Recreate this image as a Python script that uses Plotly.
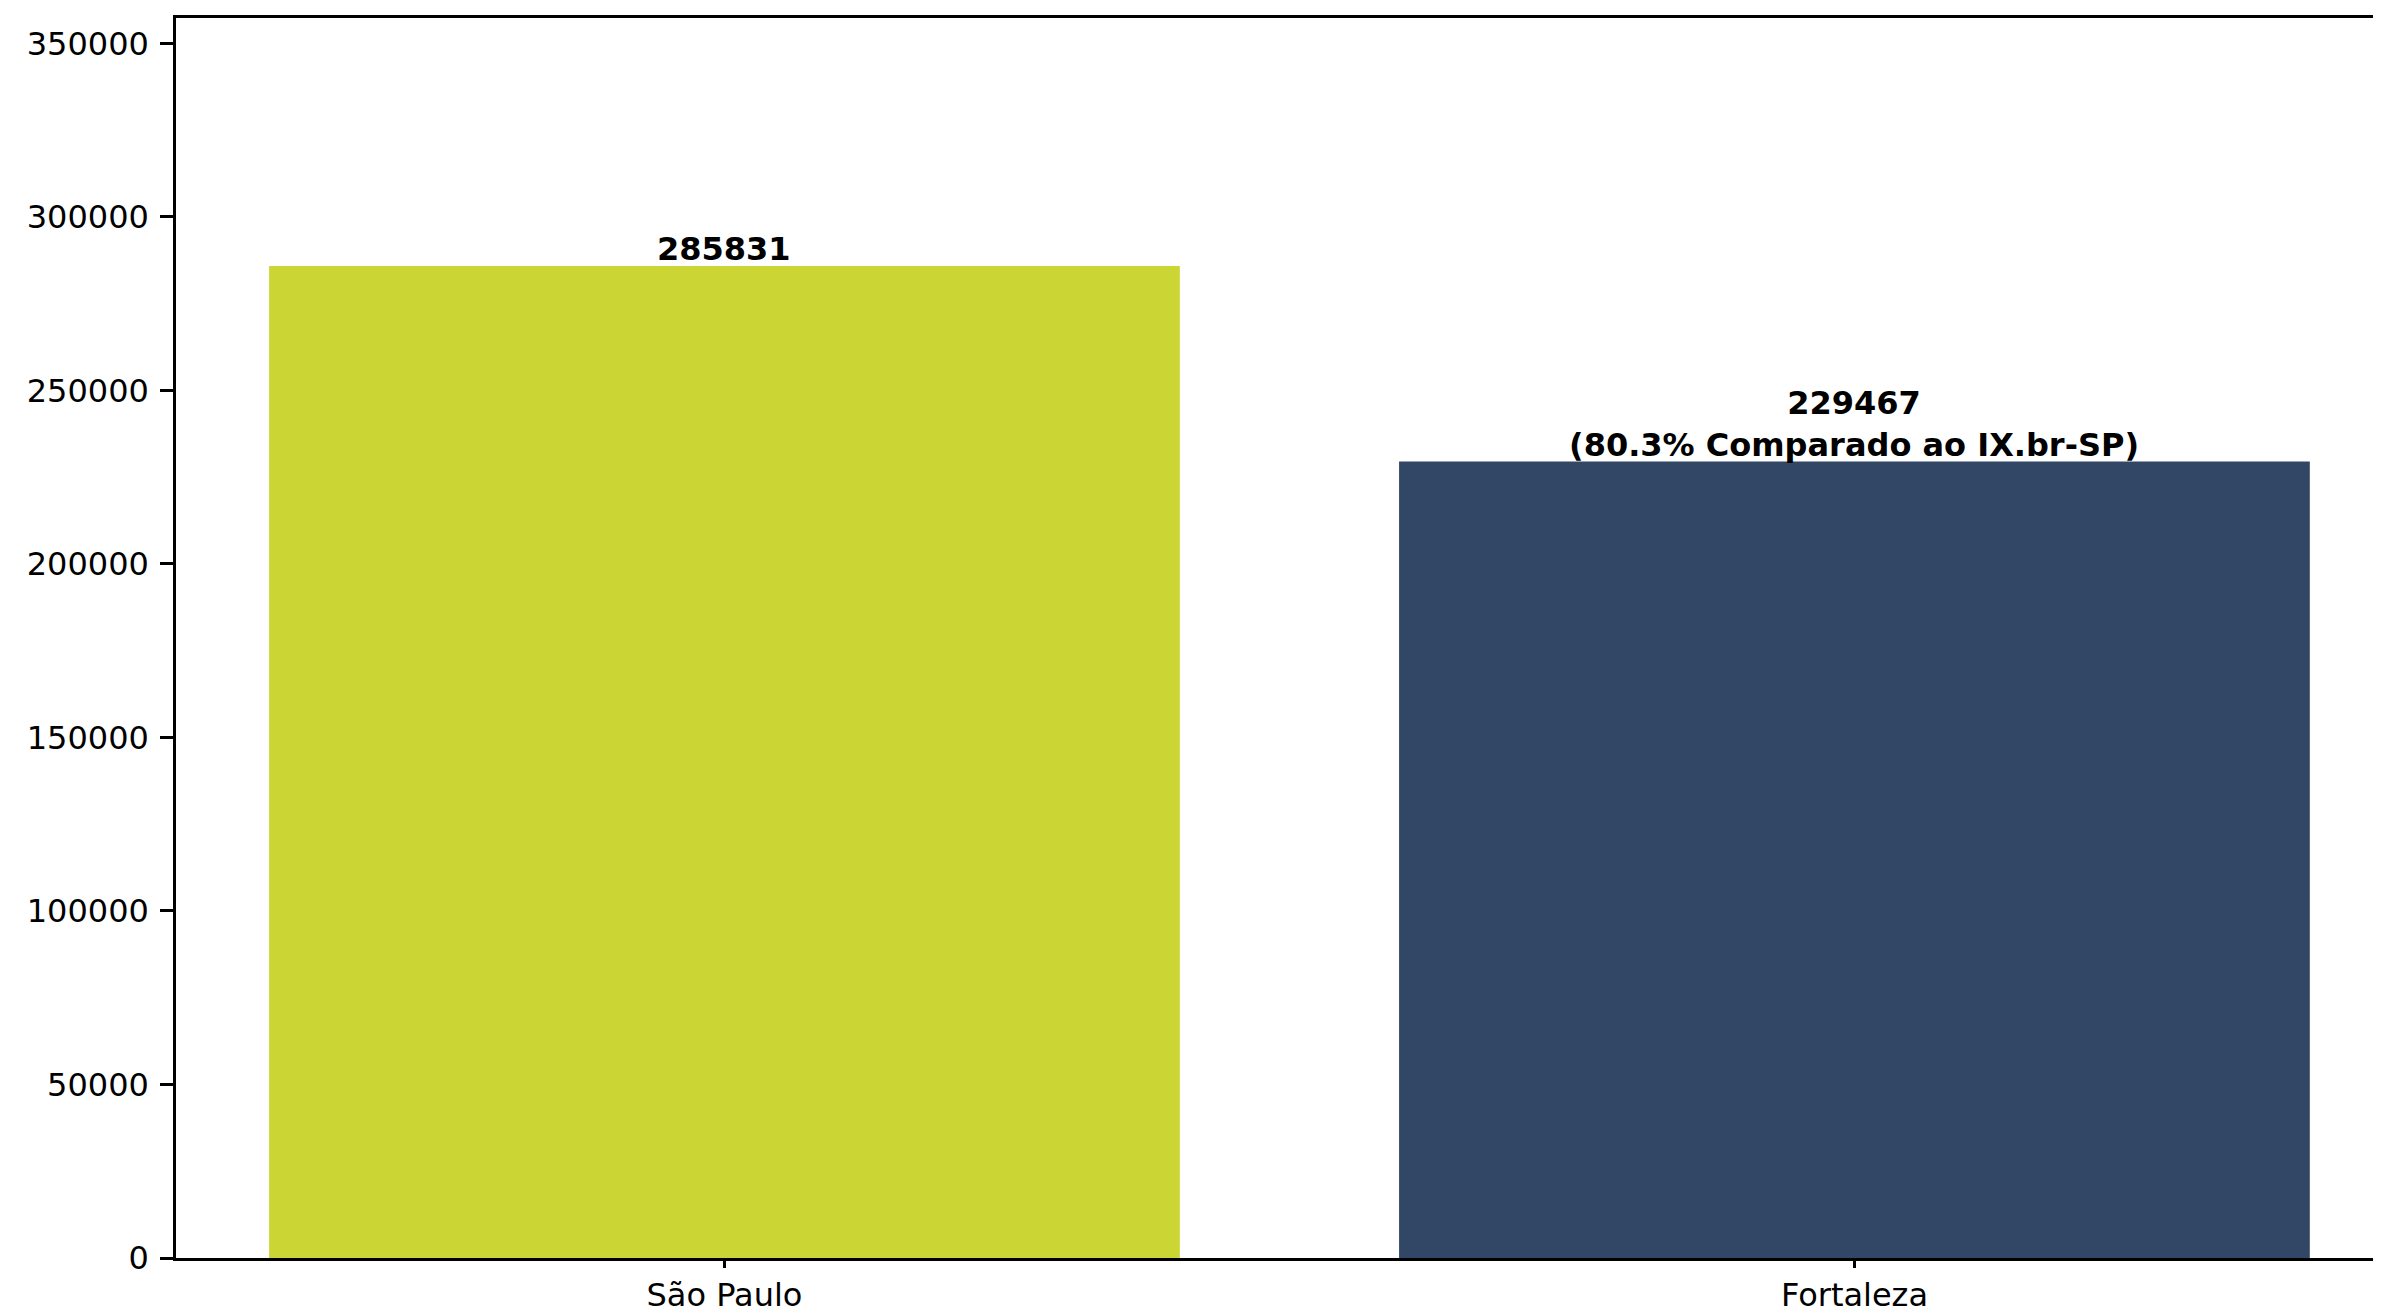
import plotly.graph_objects as go

categories = ["São Paulo", "Fortaleza"]
values = [285831, 229467]
colors = ["#CBD634", "#324765"]
y_ticks = [0, 50000, 100000, 150000, 200000, 250000, 300000, 350000]
ref_value = values[0]
ref_name = "IX.br-SP"

FONT = "DejaVu Sans"

fig = go.Figure()
fig.add_trace(go.Bar(
    x=categories,
    y=values,
    marker=dict(color=colors, line=dict(width=0)),
    width=0.806,
    hoverinfo="x+y",
))

labels = []
for i, v in enumerate(values):
    if i == 0:
        labels.append(f"<b>{v}</b>")
    else:
        pct = v / ref_value * 100
        labels.append(f"<b>{v}</b><br><b>({pct:.1f}% Comparado ao {ref_name})</b>")

for c, v, t in zip(categories, values, labels):
    fig.add_annotation(
        x=c, y=v, text=t, showarrow=False,
        xanchor="center", yanchor="bottom", yshift=-4,
        font=dict(family=FONT, size=32, color="black"),
        align="center",
    )

# page body has an 8px margin: size the figure so the plot area lands where the reference has it
fig.update_layout(
    width=2373, height=1306,
    margin=dict(l=168, r=0, t=10, b=56),
    paper_bgcolor="white", plot_bgcolor="white",
    showlegend=False,
)
fig.update_xaxes(
    type="category",
    range=[-0.4854, 1.466],
    automargin=False,
    showline=True, mirror=True, linecolor="black", linewidth=2.5,
    ticks="outside", ticklen=7, tickwidth=2.5, tickcolor="black",
    showgrid=False, zeroline=False,
    tickfont=dict(family=FONT, size=32, color="black"),
    layer="below traces",
)
fig.update_yaxes(
    range=[0, ref_value * 1.25],
    tickvals=y_ticks, ticktext=[str(t) for t in y_ticks],
    automargin=False,
    showline=True, mirror=False, linecolor="black", linewidth=2.5,
    ticks="outside", ticklen=13, tickwidth=2.5, tickcolor="black",
    ticklabelstandoff=5,
    showgrid=False, zeroline=False,
    tickfont=dict(family=FONT, size=32, color="black"),
)

fig.write_html("out.html")
